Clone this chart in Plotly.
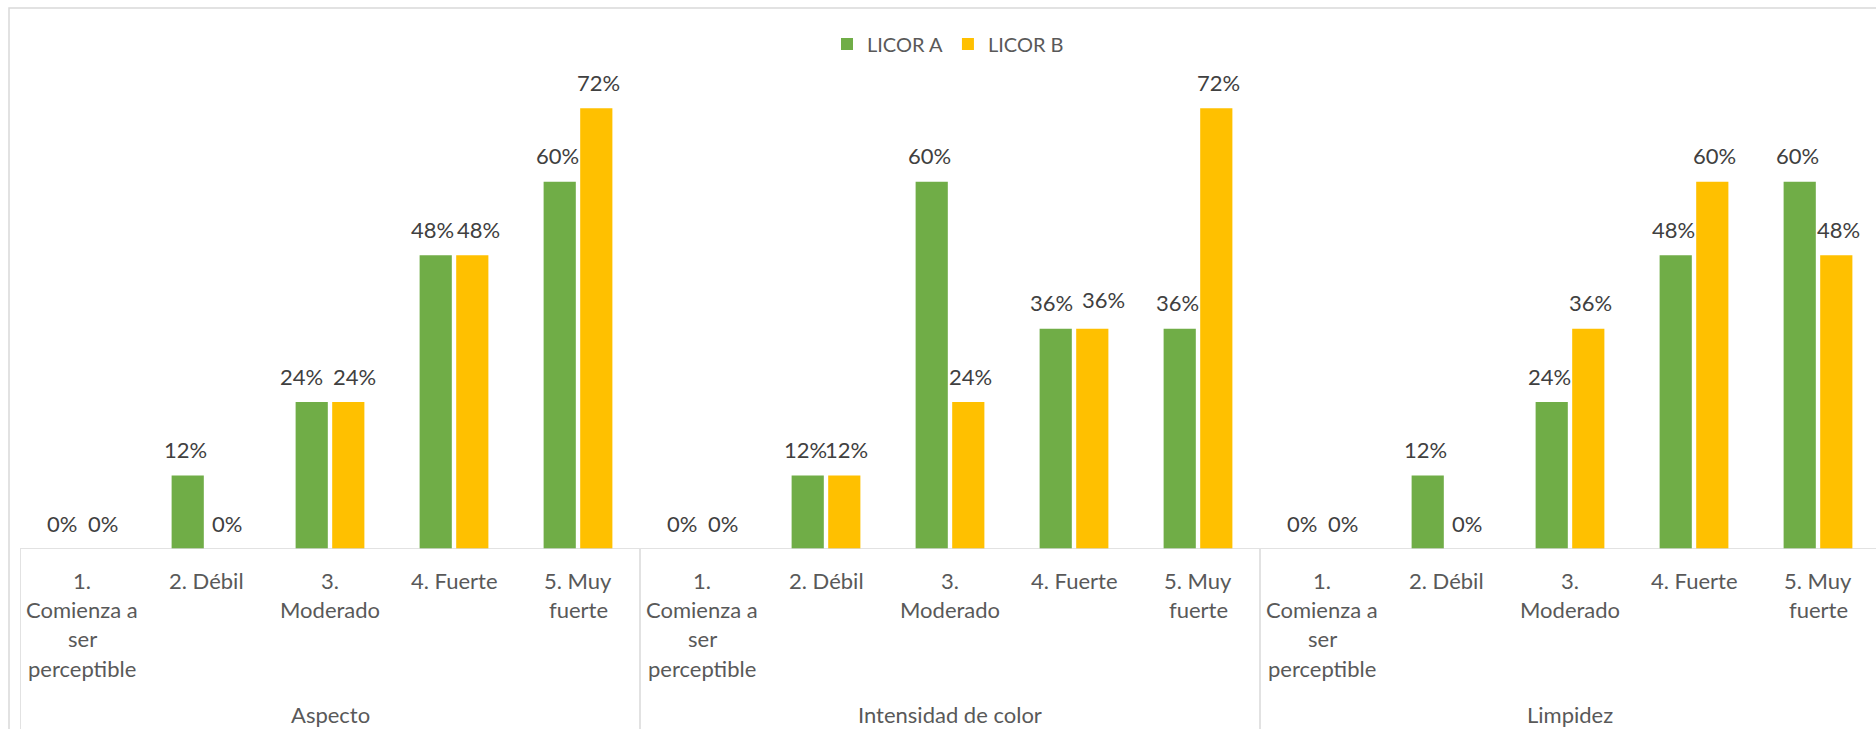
import plotly.graph_objects as go

groups = ["Aspecto", "Intensidad de color", "Limpidez"]
levels = ["1.<br>Comienza a<br>ser<br>perceptible", "2. Débil", "3.<br>Moderado",
          "4. Fuerte", "5. Muy<br>fuerte"]
licor_a = [[0, 12, 24, 48, 60], [0, 12, 60, 36, 36], [0, 12, 24, 48, 60]]
licor_b = [[0, 0, 24, 48, 72], [0, 12, 24, 36, 72], [0, 0, 36, 60, 48]]
series_names = ["LICOR A", "LICOR B"]
colors = ["#70AD47", "#FFC000"]

# manual data-label nudges (group, level, series) -> (dx, dy) in px, as in the source chart
label_nudge = {(0, 2, 0): (-8, 0), (0, 2, 1): (4, 0),
               (0, 3, 0): (-1, 0), (0, 3, 1): (4, 0),
               (1, 3, 0): (-2, 0), (1, 3, 1): (9, 3)}

FONT = "Lato, Carlito, Calibri, sans-serif"
TXT = "#595959"
LBL = "#404040"
GRID = "#D9D9D9"

W, H = 1876, 729
ML, MT, MB = 20, 29, 180
UNIT = 124.0
PX_PER = 6.12

nlev = len(levels)
xs = [g * nlev + c for g in range(len(groups)) for c in range(nlev)]

fig = go.Figure()
for name, col, data in zip(series_names, colors, [licor_a, licor_b]):
    vals = [v for grp in data for v in grp]
    fig.add_trace(go.Bar(x=xs, y=vals, name=name, marker=dict(color=col, line=dict(width=0)),
                         hoverinfo="skip"))

# data labels
shift = 20.5
for si, data in enumerate([licor_a, licor_b]):
    for g, grp in enumerate(data):
        for c, v in enumerate(grp):
            dx, dy = label_nudge.get((g, c, si), (0, 0))
            fig.add_annotation(x=g * nlev + c, y=v, text=f"{v}%", showarrow=False,
                               xshift=(-shift if si == 0 else shift) + dx, yshift=26 + dy,
                               yanchor="middle", xanchor="center",
                               font=dict(family=FONT, size=22, color=LBL))

# category labels (line by line, Excel-like spacing)
for x in xs:
    lines = levels[x % nlev].split("<br>")
    for i, ln in enumerate(lines):
        fig.add_annotation(x=x, y=0, text=ln, showarrow=False, yanchor="middle",
                           yshift=-(31 + 29.4 * i), xanchor="center",
                           font=dict(family=FONT, size=22, color=TXT))
for g, name in enumerate(groups):
    fig.add_annotation(x=g * nlev + (nlev - 1) / 2, y=0, text=name, showarrow=False,
                       yanchor="middle", yshift=-165, xanchor="center",
                       font=dict(family=FONT, size=22, color=TXT))

plot_h = H - MT - MB
plot_w = W - ML
xmax = -0.5 + plot_w / UNIT
ymax = plot_h / PX_PER

# baseline
fig.add_shape(type="line", xref="x", yref="y", x0=-0.5, x1=xmax, y0=0, y1=0,
              line=dict(color=GRID, width=1.5), layer="above")
# group dividers
below = -MB / plot_h
for g in range(len(groups) + 1):
    xd = g * nlev - 0.5
    if xd <= xmax:
        fig.add_shape(type="line", xref="x", yref="paper", x0=xd, x1=xd, y0=0, y1=below,
                      line=dict(color=GRID, width=1.5), layer="above")
# outer chart border
fig.add_shape(type="rect", xref="paper", yref="paper",
              x0=(9 - ML) / plot_w, x1=1.05, y0=-0.5, y1=1 + (MT - 8) / plot_h,
              line=dict(color=GRID, width=1.5), fillcolor="rgba(0,0,0,0)", layer="below")

fig.update_layout(
    width=W, height=H,
    margin=dict(l=ML, r=0, t=MT, b=MB),
    paper_bgcolor="white", plot_bgcolor="white",
    barmode="group", bargap=0.41, bargroupgap=0.12,
    showlegend=True,
    legend=dict(orientation="h", x=0.5, xanchor="center", y=1 - (44 - MT) / plot_h,
                yanchor="middle", font=dict(family=FONT, size=20, color=TXT),
                bgcolor="rgba(0,0,0,0)", itemclick=False, itemdoubleclick=False),
    xaxis=dict(range=[-0.5, xmax], visible=False, fixedrange=True),
    yaxis=dict(range=[0, ymax], visible=False, fixedrange=True),
    font=dict(family=FONT, color=TXT),
)

fig.write_html("out.html", config={"displayModeBar": False})
